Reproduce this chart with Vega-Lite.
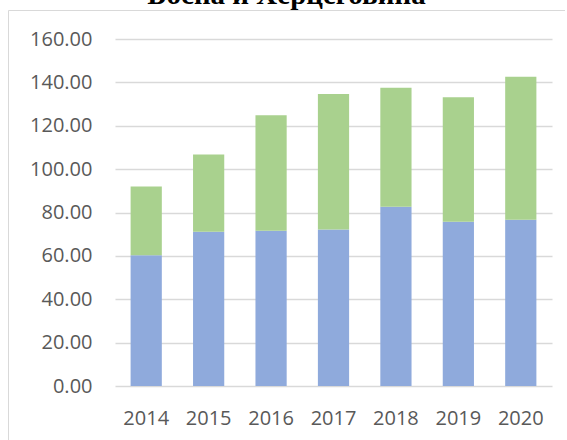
{
  "$schema": "https://vega.github.io/schema/vega-lite/v6.json",
  "width": 557,
  "height": 440,
  "autosize": {"type": "none"},
  "padding": {"left": 8, "top": 10, "right": 0, "bottom": 0},
  "background": "white",
  "title": {"text": "Босна и Херцеговина", "font": "Liberation Serif", "fontSize": 29, "fontWeight": "bold", "color": "#000000", "baseline": "alphabetic", "offset": -23, "frame": "group", "anchor": "middle"},
  "config": {"view": {"stroke": "#d9d9d9", "strokeWidth": 1}},
  "data": {"values": [
    {"year": "2014", "series": "A", "value": 60.3},
    {"year": "2015", "series": "A", "value": 71.1},
    {"year": "2016", "series": "A", "value": 71.6},
    {"year": "2017", "series": "A", "value": 72.2},
    {"year": "2018", "series": "A", "value": 82.6},
    {"year": "2019", "series": "A", "value": 75.7},
    {"year": "2020", "series": "A", "value": 76.6},
    {"year": "2014", "series": "B", "value": 31.7},
    {"year": "2015", "series": "B", "value": 35.7},
    {"year": "2016", "series": "B", "value": 53.2},
    {"year": "2017", "series": "B", "value": 62.4},
    {"year": "2018", "series": "B", "value": 54.9},
    {"year": "2019", "series": "B", "value": 57.4},
    {"year": "2020", "series": "B", "value": 66.0}
  ]},
  "mark": {"type": "bar"},
  "encoding": {
    "x": {"field": "year", "type": "ordinal",
      "scale": {"range": [107, 544], "paddingInner": 0.5, "paddingOuter": 0.25},
      "axis": {"title": null, "labelAngle": 0, "domain": false, "ticks": false, "grid": false, "labelFont": "Open Sans", "labelFontSize": 20, "labelColor": "#595959", "labelPadding": 22, "offset": -64}},
    "y": {"field": "value", "type": "quantitative", "stack": "zero",
      "scale": {"domain": [0, 160], "range": [376, 29], "nice": false},
      "axis": {"values": [0, 20, 40, 60, 80, 100, 120, 140, 160], "format": ".2f", "title": null, "domain": false, "ticks": false, "grid": true, "gridColor": "#d9d9d9", "gridWidth": 1.5, "labelFont": "Open Sans", "labelFontSize": 20, "labelColor": "#595959", "labelPadding": 23, "offset": -107}},
    "color": {"field": "series", "type": "nominal", "scale": {"domain": ["A", "B"], "range": ["#8faadc", "#a9d18e"]}, "legend": null},
    "order": {"field": "series"}
  }
}
